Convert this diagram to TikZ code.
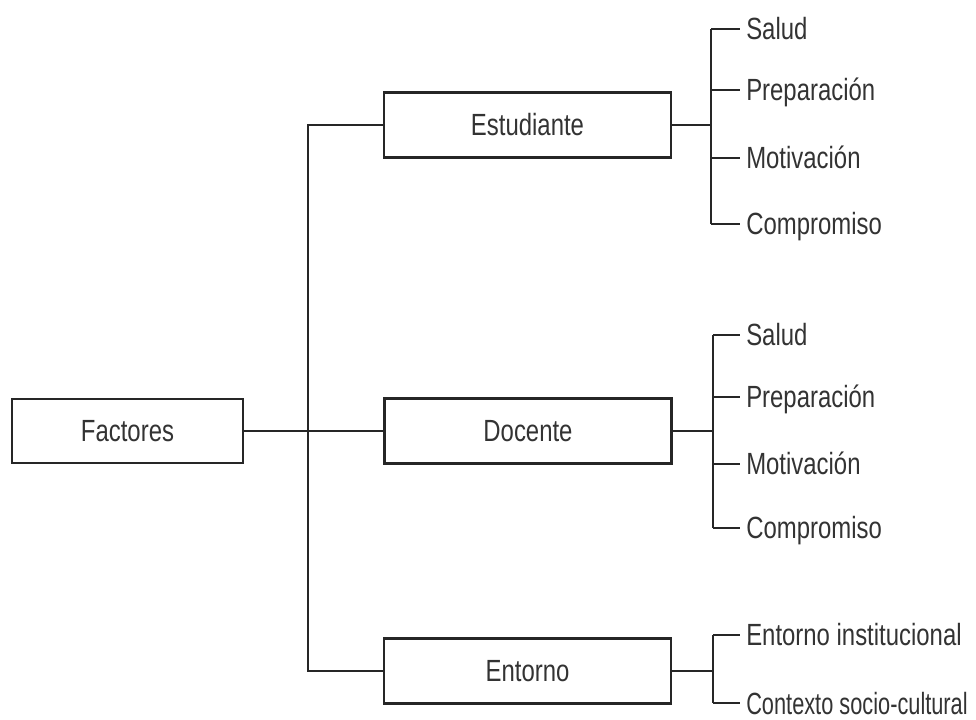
\documentclass[tikz,border=0pt]{standalone}
\usepackage{fontspec}
\setmainfont{Liberation Sans}[FakeStretch=0.78]
\newfontfamily\narrowerfont{Liberation Sans}[FakeStretch=0.71]
\begin{document}
\begin{tikzpicture}[x=0.75pt,y=-0.75pt,
  line/.style={line width=1.6pt,draw=black!85},
  mainbox/.style={draw=black!85,line width=1.8pt,minimum width=287*0.75pt,minimum height=65*0.75pt,inner sep=0pt,text=black!80,font=\fontsize{23pt}{27pt}\selectfont},
  leaf/.style={anchor=west,inner xsep=4.5pt,inner ysep=0pt,text height=16.5pt,text depth=0pt,text=black!80,font=\fontsize{23pt}{27pt}\selectfont}]
\useasboundingbox (0,0) rectangle (976,720);
% main boxes
\node[mainbox,minimum width=231*0.75pt,minimum height=64*0.75pt] (fac) at (127.5,431) {Factores};
\node[mainbox] (est) at (527.5,125) {Estudiante};
\node[mainbox] (doc) at (528,431) {Docente};
\node[mainbox] (ent) at (527.5,671) {Entorno};
% main connectors
\coordinate (j) at (308,431);
\draw[line] (fac.east) -- (doc.west);
\draw[line] (est.west) -| (j) |- (ent.west);
% Estudiante leaves
\node[leaf] (e1) at (740,29) {Salud};
\node[leaf] (e2) at (740,90) {Preparación};
\node[leaf] (e3) at (740,158) {Motivación};
\node[leaf] (e4) at (740,224) {Compromiso};
\coordinate (es) at (711,125);
\draw[line] (est.east) -- (es);
\draw[line] (es |- e1.west) -- (e1.west);
\draw[line] (es |- e2.west) -- (e2.west);
\draw[line] (es |- e3.west) -- (e3.west);
\draw[line] (es |- e4.west) -- (e4.west);
\draw[line] (es |- e1.west) -- (es |- e4.west);
% Docente leaves
\node[leaf] (d1) at (740,335) {Salud};
\node[leaf] (d2) at (740,397) {Preparación};
\node[leaf] (d3) at (740,464) {Motivación};
\node[leaf] (d4) at (740,528) {Compromiso};
\coordinate (ds) at (713,431);
\draw[line] (doc.east) -- (ds);
\draw[line] (ds |- d1.west) -- (d1.west);
\draw[line] (ds |- d2.west) -- (d2.west);
\draw[line] (ds |- d3.west) -- (d3.west);
\draw[line] (ds |- d4.west) -- (d4.west);
\draw[line] (ds |- d1.west) -- (ds |- d4.west);
% Entorno leaves
\node[leaf] (n1) at (740,635) {Entorno institucional};
\node[leaf,font=\narrowerfont\fontsize{23pt}{27pt}\selectfont] (n2) at (740,703) {Contexto socio-cultural};
\coordinate (ns) at (713,671);
\draw[line] (ent.east) -- (ns);
\draw[line] (ns |- n1.west) -- (n1.west);
\draw[line] (ns |- n2.west) -- (n2.west);
\draw[line] (ns |- n1.west) -- (ns |- n2.west);
\end{tikzpicture}
\end{document}
